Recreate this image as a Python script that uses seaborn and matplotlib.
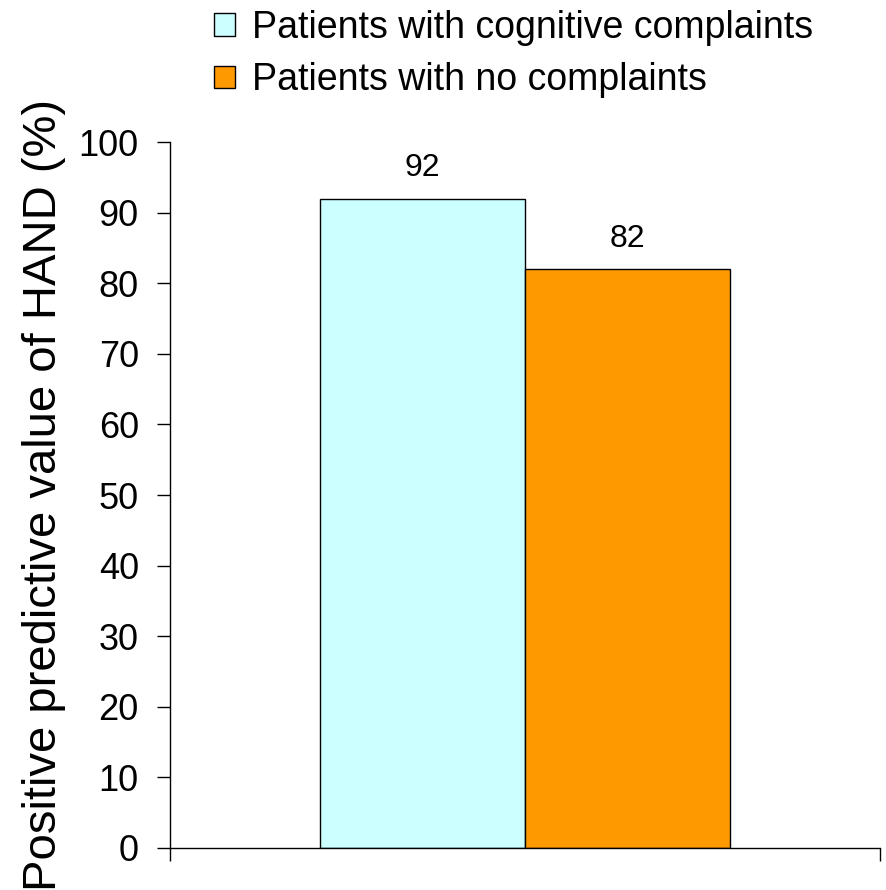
import matplotlib
matplotlib.use("Agg")
import matplotlib.pyplot as plt
import matplotlib.patches as mpatches
import pandas as pd
import seaborn as sns

# %% data
groups = ["All"]
series = ["Patients with cognitive complaints", "Patients with no complaints"]
values = [92, 82]
colors = ["#CCFFFF", "#FF9900"]
yticks = list(range(0, 101, 10))

df = pd.DataFrame({"group": groups * len(series), "series": series, "value": values})

sns.set_style("white")
plt.rcParams["font.family"] = ["Liberation Sans", "DejaVu Sans"]
plt.rcParams["text.color"] = "black"
plt.rcParams["axes.labelcolor"] = "black"
plt.rcParams["xtick.color"] = "black"
plt.rcParams["ytick.color"] = "black"

fig = plt.figure(figsize=(8.86, 8.90), dpi=100)
ax = fig.add_axes([0.1919, 0.0472, 0.8013, 0.7932])

sns.barplot(
    data=df,
    x="group",
    y="value",
    hue="series",
    palette=colors,
    saturation=1,
    edgecolor="black",
    linewidth=1.0,
    width=0.577,
    legend=False,
    ax=ax,
)

for c in ax.containers:
    ax.bar_label(c, fontsize=23, padding=11)

ax.set_xlim(-0.5, 0.5)
ax.set_ylim(0, 100)
ax.set_yticks(yticks)
ax.set_xticks([-0.5, 0.5])
ax.set_xticklabels(["", ""])
ax.set_xlabel("")
ax.set_ylabel("Positive predictive value of HAND (%)", fontsize=34, labelpad=9)
ax.tick_params(axis="y", labelsize=26, length=9.5, width=1.0, direction="out", left=True, pad=13)
ax.tick_params(axis="x", length=9.5, width=1.0, direction="out", bottom=True)

for side in ["top", "right"]:
    ax.spines[side].set_visible(False)
for side in ["left", "bottom"]:
    ax.spines[side].set_color("black")
    ax.spines[side].set_linewidth(1.0)

handles = [mpatches.Patch(facecolor=c, edgecolor="black", linewidth=1.0, label=s) for c, s in zip(colors, series)]
fig.legend(
    handles=handles,
    loc="upper left",
    bbox_to_anchor=(0.225, 1.006),
    frameon=False,
    fontsize=27,
    handlelength=0.55,
    handleheight=0.55,
    handletextpad=0.45,
    labelspacing=0.44,
    borderaxespad=0,
)

fig.savefig("out.png", dpi=100)
